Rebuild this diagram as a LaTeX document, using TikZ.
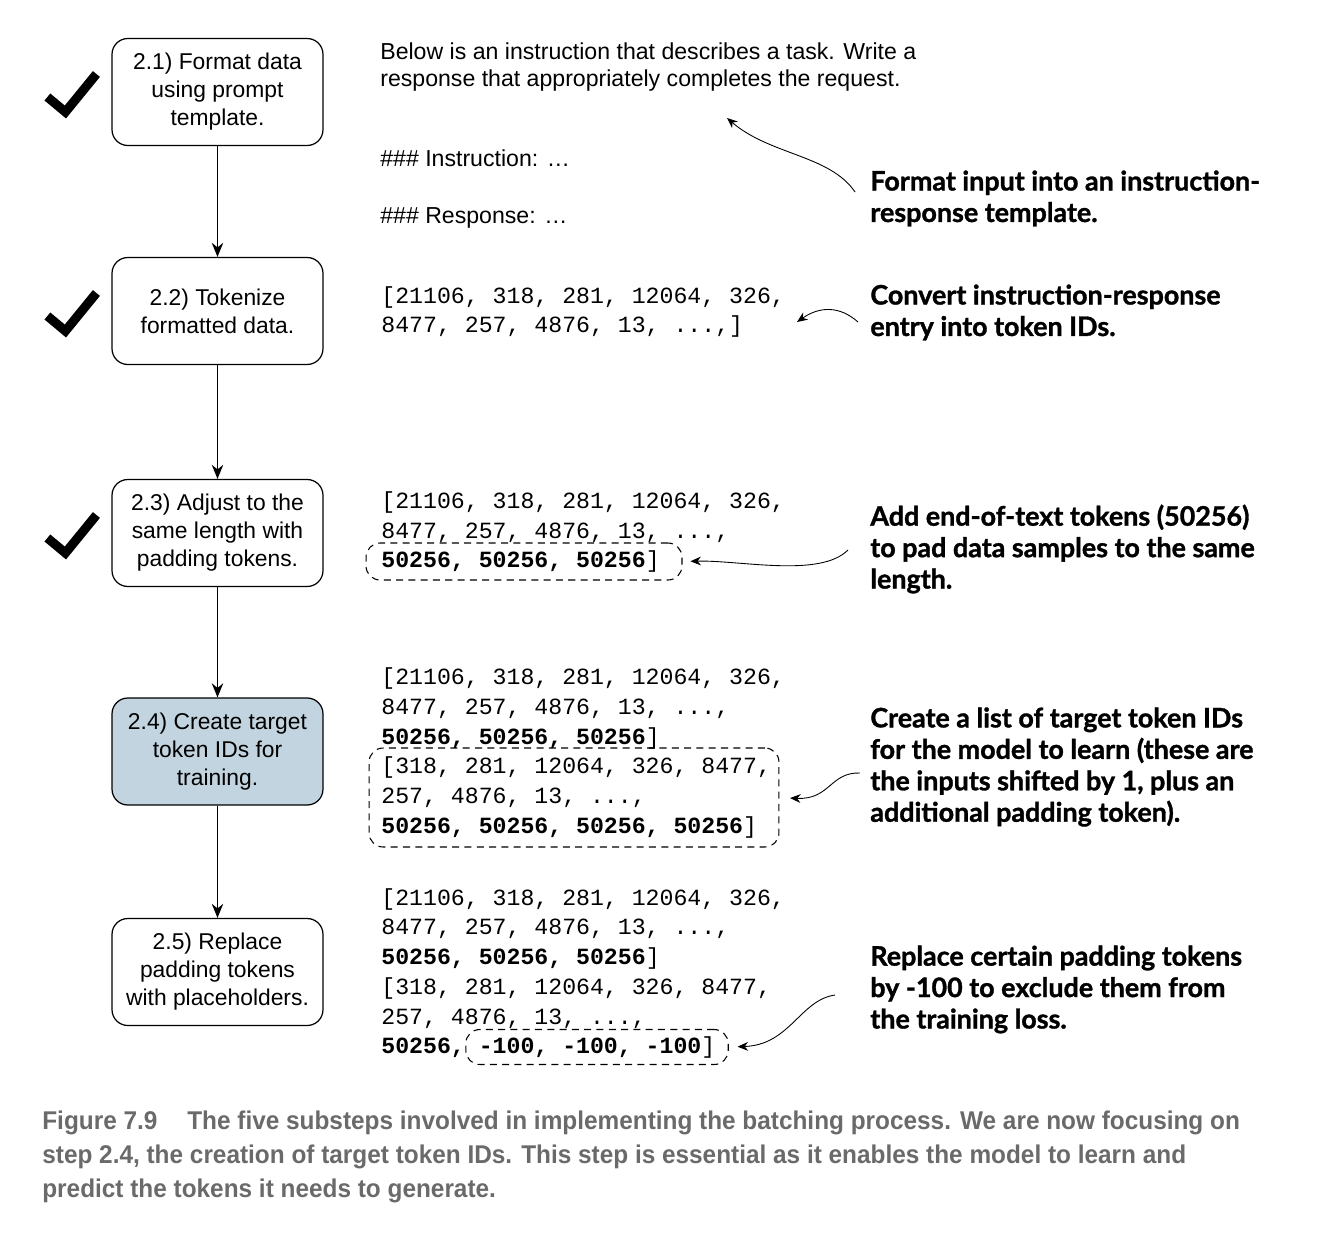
\documentclass[tikz,border=0pt]{standalone}
\usepackage{fontspec}
\setmainfont{Liberation Sans}
\setmonofont{Liberation Mono}
\newfontfamily\notefont[BoldFeatures={FakeBold=1.2}]{Lato}
\newfontfamily\capfont[FakeStretch=0.95]{Liberation Sans}
\usetikzlibrary{arrows.meta, positioning}
\definecolor{stepblue}{HTML}{C2D4DF}
\definecolor{capgray}{HTML}{6A6A6A}
\tikzset{
	stepbox/.style={rectangle, rounded corners=9pt, minimum width=4.22cm, minimum height=2.14cm, align=center, draw=black, line width=0.7pt, fill=white, font=\fontsize{13}{15.9}\selectfont},
	codetext/.style={anchor=west, inner sep=0pt, align=left, font=\ttfamily\fontsize{13.2}{16.9}\selectfont},
	plaintext/.style={anchor=west, inner sep=0pt, align=left, font=\fontsize{13.15}{15.9}\selectfont},
	notetext/.style={anchor=west, inner sep=0pt, align=left, font=\notefont\bfseries\fontsize{15.3}{17.9}\selectfont},
	padbox/.style={draw, dash pattern=on 4pt off 3pt, rounded corners=8pt, inner sep=0pt, line width=0.6pt},
	arrow/.style={line width=0.7pt, ->, >={Stealth[length=8pt, width=6.5pt]}},
	notearrow/.style={line width=0.5pt, ->, >={Stealth[length=6pt, width=5pt]}},
	tick/.style={line width=5.2pt, line join=miter}
}

\begin{document}
\begin{tikzpicture}[x=0.02cm, y=-0.02cm]
		\useasboundingbox (0,0) rectangle (1318,1244);
		
		% Steps
		\node (b1) [stepbox] at (217.5,92) {2.1) Format data\\using prompt\\template.};
		\node (b2) [stepbox] at (217.5,311) {2.2) Tokenize\\formatted data.};
		\node (b3) [stepbox] at (217.5,533) {2.3) Adjust to the\\same length with\\padding tokens.};
		\node (b4) [stepbox, fill=stepblue] at (217.5,751.5) {2.4) Create target\\token IDs for\\training.};
		\node (b5) [stepbox] at (217.5,972) {2.5) Replace\\padding tokens\\with placeholders.};
		
		% Arrows
		\draw [arrow] (b1) -- (b2);
		\draw [arrow] (b2) -- (b3);
		\draw [arrow] (b3) -- (b4);
		\draw [arrow] (b4) -- (b5);
		
		% Ticks
		\foreach \b in {b1,b2,b3}
			\draw [tick, shift={(\b.west)}] (-64,5) -- (-46,20) -- (-15,-18);
		
		% Examples
		\node (prompt) [plaintext] at (380,67) {Below is an instruction that describes a task. Write a\\response that appropriately completes the request.};
		\node (instr) [plaintext] at (380,158) {\#\#\# Instruction: …};
		\node (resp) [plaintext] at (380,218) {\#\#\# Response: …};
		\node (code2) [codetext] at (381,312) {[21106, 318, 281, 12064, 326,\\8477, 257, 4876, 13, ...,]};
		\node (code3) [codetext] at (381,532) {[21106, 318, 281, 12064, 326,\\8477, 257, 4876, 13, ...,\\\textbf{50256, 50256, 50256}]};
		\node (code4) [codetext] at (381,753) {[21106, 318, 281, 12064, 326,\\8477, 257, 4876, 13, ...,\\\textbf{50256, 50256, 50256}]\\{}[318, 281, 12064, 326, 8477,\\257, 4876, 13, ...,\\\textbf{50256, 50256, 50256, 50256}]};
		\node (code5) [codetext] at (381,973.5) {[21106, 318, 281, 12064, 326,\\8477, 257, 4876, 13, ...,\\\textbf{50256, 50256, 50256}]\\{}[318, 281, 12064, 326, 8477,\\257, 4876, 13, ...,\\\textbf{50256, -100, -100, -100}]};
		
		% Dashed marks
		\node (pad3) [padbox, minimum width=6.32cm, minimum height=0.74cm] at (524,561.5) {};
		\node (tgt4) [padbox, minimum width=8.2cm, minimum height=1.98cm] at (574,797.5) {};
		\node (mask5) [padbox, minimum width=5.25cm, minimum height=0.7cm] at (597,1047) {};
		
		% Notes
		\node (n1) [notetext] at (870,198.5) {Format input into an instruction-\\response template.};
		\node (n2) [notetext] at (870,312.5) {Convert instruction-response\\entry into token IDs.};
		\node (n3) [notetext] at (870,549) {Add end-of-text tokens (50256)\\to pad data samples to the same\\length.};
		\node (n4) [notetext] at (870,767) {Create a list of target token IDs\\for the model to learn (these are\\the inputs shifted by 1, plus an\\additional padding token).};
		\node (n5) [notetext] at (870,989.5) {Replace certain padding tokens\\by -100 to exclude them from\\the training loss.};
		
		\coordinate (s1) at (855,192);
		\coordinate (t1) at (727,118);
		\coordinate (s2) at (858,322);
		\coordinate (t2) at (797,322);
		\coordinate (s3) at (848,550);
		\coordinate (s4) at (860,773);
		\coordinate (s5) at (835,995);
		
		\draw [notearrow] (s1) .. controls (830,155) and (770,155) .. (t1);
		\draw [notearrow] (s2) .. controls (840,306) and (820,306) .. (t2);
		\draw [notearrow, shorten >=4.5pt] (s3) .. controls (820,578) and (740,560) .. (pad3.east);
		\draw [notearrow, shorten >=6pt] (s4) .. controls (830,772) and (830,800) .. (tgt4.east);
		\draw [notearrow, shorten >=5pt] (s5) .. controls (800,1000) and (790,1045) .. (mask5.east);
		
		% Caption
		\node (caption) [anchor=west, inner sep=0pt, align=left, text=capgray, font=\capfont\bfseries\fontsize{14.6}{19.35}\selectfont] at (42,1157) {Figure 7.9\hspace{0.9em} The five substeps involved in implementing the batching process. We are now focusing on\\step 2.4, the creation of target token IDs. This step is essential as it enables the model to learn and\\predict the tokens it needs to generate.};
		
	\end{tikzpicture}
\end{document}
